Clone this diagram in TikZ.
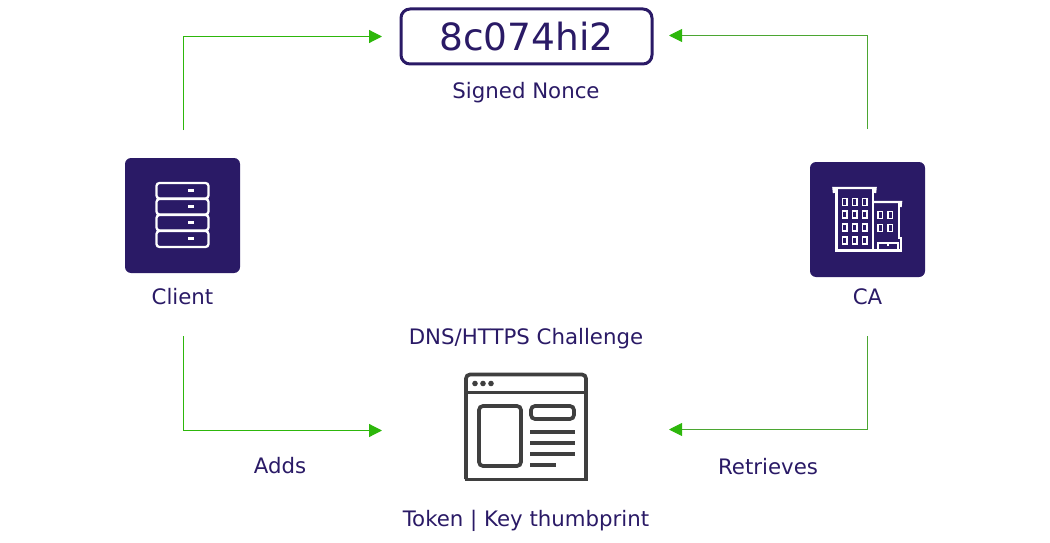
\documentclass[tikz,border=0pt]{standalone}
\usepackage{fontspec}
\setmainfont{DejaVu Sans}
\usetikzlibrary{arrows.meta}
\definecolor{navy}{HTML}{2A1A66}
\definecolor{leaf}{HTML}{2DB70B}
\definecolor{moss}{HTML}{4BA632}
\definecolor{ink}{HTML}{3F3F3F}
\tikzset{
  every node/.style={inner sep=0pt, text=navy},
  caption/.style={font=\fontsize{21.3}{24}\selectfont, anchor=base},
  tile/.style={fill=navy, rounded corners=6, minimum width=115, minimum height=115},
  icon/.style={draw=white, line width=2.3, rounded corners=3},
  tower/.style={draw=white, line width=2.4},
  pane/.style={draw=white, line width=1.9},
  page/.style={draw=ink, line width=3.7},
  linkl/.style={draw=leaf, line width=1.2, -{Triangle[length=13,width=13,color=leaf]}},
  linkr/.style={draw=moss, line width=0.9, -{Triangle[length=13,width=13,color=leaf]}},
}
\begin{document}
\begin{tikzpicture}[x=1pt,y=-1pt]
\useasboundingbox (0,0) rectangle (1050,543);
% nonce box
\node [draw=navy, line width=3, rounded corners=9, minimum width=251, minimum height=55, font=\fontsize{37.5}{44}\selectfont] (nonce) at (526.5,36.5) {8c074hi2};
\node [caption] (noncetext) at (526,99) {Signed Nonce};
% client
\node [tile] (client) at (182.5,215.5) {};
\node [caption] (clienttext) at (182.5,304) {Client};
\draw [icon] (156.5,183) rectangle (208.5,198.5);
\draw [icon] (156.5,199) rectangle (208.5,214.5);
\draw [icon] (156.5,215) rectangle (208.5,230.5);
\draw [icon] (156.5,231) rectangle (208.5,247);
\foreach \y in {190.5,206.5,222.5,238.5}
  \draw [white, line width=2.2] (188,\y) -- (194,\y);
% ca
\node [tile] (ca) at (867.5,219.5) {};
\node [caption] (catext) at (867.5,304) {CA};
\draw [tower] (834,193) -- (833.5,188) -- (875.5,188) -- (875,193);
\draw [tower] (836.5,188) -- (836.5,250.5) -- (873,250.5) -- (873,188);
\draw [tower] (873,202) -- (901,202) -- (900.5,207);
\draw [tower] (899,202) -- (899,238) -- (901,238) -- (901,250.5) -- (873,250.5);
\draw [tower] (878,250.5) -- (878,243) -- (898,243) -- (898,250.5);
\draw [white, line width=1.5] (888,243) -- (888,246);
\foreach \x in {842.5,852.5,862.5}
  \foreach \y in {198.5,211,224,237}
    \draw [pane] (\x,\y) rectangle ++(4.5,7);
\foreach \x in {878,888}
  \foreach \y in {211.5,224.5}
    \draw [pane] (\x,\y) rectangle ++(4.5,7);
% browser page
\draw [page, rounded corners=4] (466,479) -- (466,374.5) -- (586,374.5) -- (586,479);
\draw [page] (464.5,479.5) -- (587.5,479.5);
\draw [page] (466,392.5) -- (586,392.5);
\foreach \x in {475,483,491}
  \fill [ink] (\x,383.5) circle (2.8);
\draw [page, rounded corners=4] (479,406) rectangle (521,466);
\draw [page, rounded corners=4] (531,406) rectangle (574,419);
\foreach \y in {432,443,454}
  \draw [page] (530,\y) -- (575,\y);
\draw [page] (530,465) -- (556,465);
\node [caption] (dnstext) at (526,344) {DNS/HTTPS Challenge};
\node [caption] (tokentext) at (526,526) {Token | Key thumbprint};
\node [caption] (addstext) at (280,473) {Adds};
\node [caption] (retrtext) at (768,474) {Retrieves};
% links
\coordinate (topl) at (183.5,130);
\coordinate (topr) at (867.5,129);
\coordinate (botl) at (183.5,336);
\coordinate (botr) at (867.5,336);
\coordinate (pagel) at (382,430.5);
\coordinate (pager) at (669,429.5);
\coordinate (noncel) at (382,36.5);
\coordinate (noncer) at (669,35.5);
\draw [linkl] (topl) |- (noncel);
\draw [linkr] (topr) |- (noncer);
\draw [linkl] (botl) |- (pagel);
\draw [linkr] (botr) |- (pager);
\end{tikzpicture}
\end{document}
